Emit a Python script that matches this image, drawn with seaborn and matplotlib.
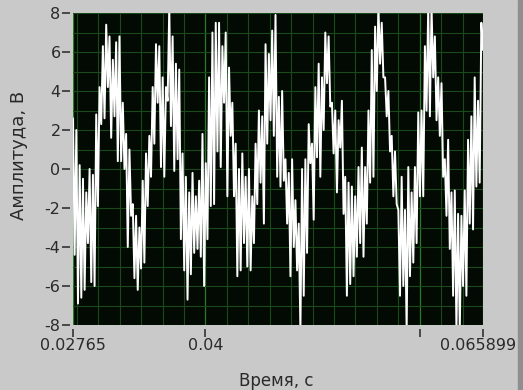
import numpy as np
import seaborn as sns
import matplotlib.pyplot as plt
from matplotlib.patches import Rectangle
from matplotlib.ticker import MultipleLocator
from matplotlib.transforms import ScaledTranslation

# Zeitachse (Start / Ende der Aufnahme, s)
t_start = 0.02765
t_end = 0.065899

# Amplitude, V (Paare max/min je ~3 px)
amplitude = [
    # 0.0277 .. 0.034
    2.6, -4.4, 2.0, -6.9, 0.2, -6.6, -0.5, -6.2, -1.2, -3.8, 0.0, -5.8,
    -0.3, -6.0, 2.8, -1.9, 4.2, 2.3, 6.3, 2.6, 7.4, 4.2, 6.8, 1.6,
    5.6, 2.7, 6.5, 0.4, 6.8, 0.4, 3.4, 0.0, 1.8, -4.0, 1.0, -2.4,
    -1.8, -5.6, -2.4, -6.2, -3.0, -5.1,
    # 0.034 .. 0.040
    -0.6, -4.8, 0.8, -1.9, 1.7, -0.4, 4.2, 1.3, 6.4, 3.4, 6.3, 0.1,
    4.7, -0.4, 4.2, 3.5, 8.3, 2.2, 6.8, -0.1, 5.4, 0.5, 5.1, -3.6,
    0.8, -5.2, -0.4, -6.7, -1.2, -5.4, -0.2, -4.3, -1.4, -4.1, -0.6, -4.5,
    1.8, -6.0, 0.3, -3.6, 4.7, -1.9,
    # 0.040 .. 0.047
    7.0, -1.8, 7.5, 0.9, 7.5, 0.1, 6.3, 3.4, 7.0, -1.4, 5.2, 1.7,
    3.4, -1.4, 1.3, -5.5, 0.0, -5.2, 0.8, -3.8, -0.4, -5.0, 0.0, -5.2,
    -1.4, -3.8, 1.3, -1.8, 3.0, -0.7, 2.7, -2.8, 6.4, 1.3, 5.9, 2.5,
    7.1, 1.7, 7.9, -0.4, 3.7, -0.9,
    # 0.047 .. 0.053
    4.0, -0.6, 0.5, -2.8, -0.2, -5.5, 0.5, -4.0, -1.6, -5.2, -2.8, -8.3,
    0.0, -6.5, 0.5, -4.3, 2.3, 0.3, 1.3, -2.6, 4.2, 0.6, 5.4, -0.4,
    4.7, 2.0, 7.0, 4.4, 6.8, 3.2, 3.4, 0.8, 3.0, -1.2, 2.5, 1.1,
    3.5, -2.3, -0.4, -6.5, -0.7, -5.9,
    # 0.053 .. 0.060
    -0.9, -5.5, -1.4, -4.5, 0.1, -3.8, 1.1, -4.5, 0.1, -2.8, 3.0, -0.7,
    6.1, -0.4, 7.3, 4.0, 8.3, 5.4, 7.5, 4.7, 4.7, 2.7, 4.0, 0.9,
    1.7, -1.4, 0.9, -1.8, -2.1, -6.5, -0.4, -6.0, -2.1, -8.3, 0.1, -5.5,
    -1.2, -4.8, 0.1, -3.8, 2.9, -1.4,
    # 0.060 .. 0.0659
    3.0, -1.4, 6.3, 3.0, 8.3, 2.7, 8.3, 4.7, 6.8, 2.5, 4.7, 1.7,
    4.4, -0.4, 0.5, -2.4, 1.5, -4.1, -1.2, -6.5, -1.1, -8.3, -2.3, -8.3,
    -2.4, -6.0, -1.1, -6.5, 1.5, -2.8, 2.7, -3.1, 4.7, -0.9, 3.5, -0.7,
    7.5, 6.1,
]

x_ticks = [0.02765, 0.04, 0.06, 0.065899]
x_tick_labels = ["0.02765", "0.04", "", "0.065899"]
y_ticks = [-8, -6, -4, -2, 0, 2, 4, 6, 8]
y_tick_labels = ["-8", "-6", "-4", "-2", "0", "2", "4", "6", "8"]

sns.set_theme(style="dark")
plt.rcParams["font.family"] = ["DejaVu Sans"]

fig = plt.figure(figsize=(5.23, 3.90), dpi=100, facecolor="#c9c9c9")
fig.patches.append(Rectangle((518 / 523, 0), 5 / 523, 1, transform=fig.transFigure,
                             color="#8f8f8f", zorder=0))
ax = fig.add_axes([73 / 523, 65 / 390, 410 / 523, 312 / 390])
ax.set_facecolor("#030a03")

t = np.linspace(t_start, t_end, len(amplitude))
sns.lineplot(x=t, y=amplitude, ax=ax, color="white", linewidth=1.4,
             estimator=None, errorbar=None)

ax.set_xlim(t_start, t_end)
ax.set_ylim(-8, 8)
ax.set_xticks(x_ticks)
ax.set_xticklabels(x_tick_labels)
ax.set_yticks(y_ticks)
ax.set_yticklabels(y_tick_labels)
ax.xaxis.set_minor_locator(MultipleLocator(0.002))
ax.yaxis.set_minor_locator(MultipleLocator(1))

# Gitter
ax.set_axisbelow(True)
ax.grid(which="minor", color="#1a4a1a", linewidth=0.8)
ax.grid(which="major", axis="y", color="#1a4a1a", linewidth=0.8)
ax.grid(which="major", axis="x", color="#2a7a2a", linewidth=0.9)

for s in ax.spines.values():
    s.set_visible(False)
ax.spines["bottom"].set_position(("outward", 3))
ax.spines["left"].set_position(("outward", 2))

ax.tick_params(which="minor", length=0)
ax.tick_params(which="major", bottom=True, left=True, direction="out",
               length=6, width=1.2, color="#333333", labelcolor="#2a2a2a",
               labelsize=11.5)
ax.tick_params(axis="x", pad=0)
ax.tick_params(axis="y", pad=1)

# letztes Label etwas nach links, damit es ins Bild passt
last = ax.get_xticklabels()[-1]
last.set_transform(last.get_transform() + ScaledTranslation(-5 / 100, 0, fig.dpi_scale_trans))

ax.set_xlabel("Время, с", fontsize=12, color="#2a2a2a")
ax.set_ylabel("Амплитуда, В", fontsize=13, color="#2a2a2a")
ax.xaxis.set_label_coords(0.495, -0.15)
ax.yaxis.set_label_coords(-0.11, 0.545)

fig.savefig("out.png", dpi=100, facecolor=fig.get_facecolor())
